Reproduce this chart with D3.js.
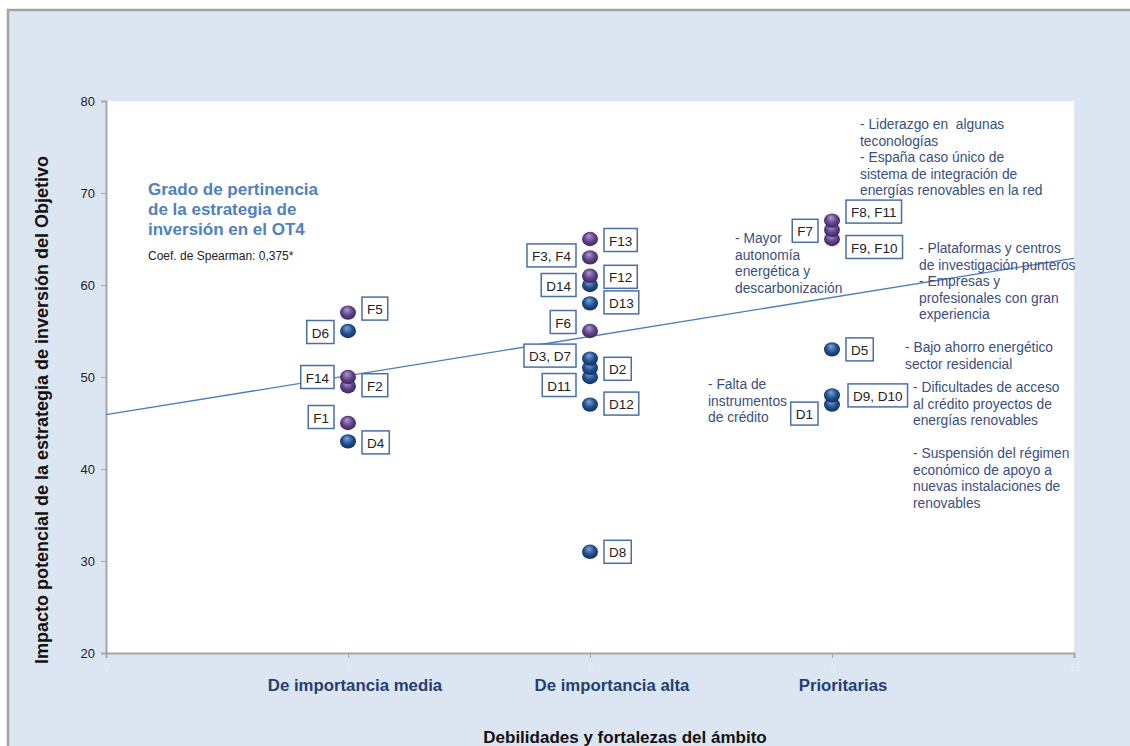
<!DOCTYPE html>
<html lang="es">
<head>
<meta charset="UTF-8">
<title>Grado de pertinencia OT4</title>
<script src="https://d3js.org/d3.v7.min.js"></script>
<style>
  body { margin: 0; background: #fff; }
  text { font-family: "Liberation Sans", Arial, sans-serif; white-space: pre; }
</style>
</head>
<body>
<script>
// ---- data ----
var categories = ["De importancia media", "De importancia alta", "Prioritarias"];
var categoryPos = [3, 6, 9];
var yTicks = [20, 30, 40, 50, 60, 70, 80];
var xTicks = [0, 3, 6, 9, 12];

// points, drawn bottom-up so the upper sphere sits on top
var pointLabels = ["D4", "F1", "F2", "F14", "D6", "F5",
                   "D8", "D12", "D11", "D2", "D3, D7", "F6", "D13", "D14", "F12", "F3, F4", "F13",
                   "D1", "D9, D10", "D5", "F9, F10", "F7", "F8, F11"];
var pointCat = [0, 0, 0, 0, 0, 0,
                1, 1, 1, 1, 1, 1, 1, 1, 1, 1, 1,
                2, 2, 2, 2, 2, 2];
var pointValues = [43, 45, 49, 50, 55, 57,
                   31, 47, 50, 51, 52, 55, 58, 60, 61, 63, 65,
                   47, 48, 53, 65, 66, 67];

// regression line (x, y)
var trendX = [0, 12];
var trendY = [45.9, 62.9];

var titleLines = ["Grado de pertinencia", "de la estrategia de", "inversión en el OT4"];
var coefText = "Coef. de Spearman: 0,375*";

var notes = [
  ["- Liderazgo en  algunas", "teconologías", "- España caso único de", "sistema de integración de", "energías renovables en la red"],
  ["- Mayor", "autonomía", "energética y", "descarbonización"],
  ["- Plataformas y centros", "de investigación punteros", "- Empresas y", "profesionales con gran", "experiencia"],
  ["- Bajo ahorro energético", "sector residencial"],
  ["- Dificultades de acceso", "al crédito proyectos de", "energías renovables"],
  ["- Suspensión del régimen", "económico de apoyo a", "nuevas instalaciones de", "renovables"],
  ["- Falta de", "instrumentos", "de crédito"]
];

// ---- layout ----
var W = 1130, H = 746;
var svg = d3.select("body").append("svg").attr("width", W).attr("height", H);

var x = d3.scaleLinear().domain([0, 12]).range([106, 1074]);
var y = d3.scaleLinear().domain([20, 80]).range([653, 101]);

// label side and vertical nudge (px)
var labelLayout = {
  "F5": ["r", -4], "D6": ["l", 1], "F14": ["l", 0], "F2": ["r", -1], "F1": ["l", -6], "D4": ["r", 1],
  "F13": ["r", 1], "F3, F4": ["l", -2], "F12": ["r", 1], "D14": ["l", 0], "D13": ["r", -1],
  "F6": ["l", -9], "D3, D7": ["l", -3], "D2": ["r", 1], "D11": ["l", 8], "D12": ["r", -1], "D8": ["r", 0],
  "F8, F11": ["r", -9], "F7": ["l", 1], "F9, F10": ["r", 8], "D5": ["r", 0], "D9, D10": ["r", 0], "D1": ["l", 9]
};
var notePos = [[860, 124], [735, 238], [919, 248], [905, 347], [913, 387], [913, 453], [708, 384]];

// frame
svg.append("rect").attr("x", 0).attr("y", 0).attr("width", W).attr("height", H).attr("fill", "#fff");
svg.append("rect").attr("x", 8).attr("y", 10).attr("width", W + 20).attr("height", H + 20)
  .attr("fill", "#dce6f2").attr("stroke", "#a3a3a3").attr("stroke-width", 2.5);

svg.append("rect").attr("x", x(0)).attr("y", y(80))
  .attr("width", x(12) - x(0)).attr("height", y(20) - y(80)).attr("fill", "#fff");

// gradients
var defs = svg.append("defs");
function sphere(id, c0, c1, c2) {
  var g = defs.append("radialGradient").attr("id", id)
    .attr("cx", "50%").attr("cy", "45%").attr("r", "60%").attr("fx", "42%").attr("fy", "28%");
  g.append("stop").attr("offset", "0%").attr("stop-color", c0);
  g.append("stop").attr("offset", "55%").attr("stop-color", c1);
  g.append("stop").attr("offset", "100%").attr("stop-color", c2);
}
sphere("gBlue", "#7ea6dd", "#23508f", "#0d2a55");
sphere("gPurple", "#b39ad0", "#5f4589", "#332250");

// axes
var yAxis = d3.axisLeft(y).tickValues(yTicks).tickSize(5).tickPadding(6);
var gy = svg.append("g").attr("transform", "translate(" + x(0) + ",0)").call(yAxis);
gy.select(".domain").attr("stroke", "#a6a6a6").attr("stroke-width", 2);
gy.selectAll(".tick line").attr("stroke", "#a6a6a6");
gy.selectAll(".tick text").attr("font-size", 13).attr("fill", "#222")
  .attr("font-family", "Liberation Sans, Arial, sans-serif");

var xAxis = d3.axisBottom(x).tickValues(xTicks).tickSize(5).tickPadding(6);
var gx = svg.append("g").attr("transform", "translate(0," + y(20) + ")").call(xAxis);
gx.select(".domain").attr("stroke", "#a6a6a6").attr("stroke-width", 2);
gx.selectAll(".tick line").attr("stroke", "#a6a6a6");
gx.selectAll(".tick text").attr("font-size", 10).attr("fill", "#e6edf6")
  .attr("font-family", "Liberation Sans, Arial, sans-serif");

// category labels
svg.selectAll(".cat").data(categories).enter().append("text")
  .attr("x", function (d, i) { return x(categoryPos[i]) + [7, 22, 11][i]; })
  .attr("y", 691).attr("text-anchor", "middle")
  .attr("font-size", 16.8).attr("font-weight", "bold").attr("fill", "#243f74")
  .text(function (d) { return d; });

// axis titles
svg.append("text").attr("x", 625).attr("y", 743).attr("text-anchor", "middle")
  .attr("font-size", 17).attr("font-weight", "bold").attr("fill", "#111")
  .text("Debilidades y fortalezas del ámbito");
svg.append("text").attr("transform", "translate(48,410) rotate(-90)").attr("text-anchor", "middle")
  .attr("font-size", 18).attr("font-weight", "bold").attr("fill", "#111")
  .text("Impacto potencial de la estrategia de inversión del Objetivo");

// trend line
var trend = trendX.map(function (d, i) { return [d, trendY[i]]; });
svg.append("path").datum(trend)
  .attr("d", d3.line().x(function (d) { return x(d[0]); }).y(function (d) { return y(d[1]); }))
  .attr("fill", "none").attr("stroke", "#4a7ebb").attr("stroke-width", 1.3);

// title block
svg.selectAll(".title").data(titleLines).enter().append("text")
  .attr("x", 148).attr("y", function (d, i) { return 195 + i * 20; })
  .attr("font-size", 17).attr("font-weight", "bold").attr("fill", "#4f81bd")
  .text(function (d) { return d; });
svg.append("text").attr("x", 148).attr("y", 260).attr("font-size", 12).attr("fill", "#222").text(coefText);

// points
var points = pointLabels.map(function (d, i) {
  return { label: d, x: categoryPos[pointCat[i]], v: pointValues[i] };
});

var pts = svg.append("g");
pts.selectAll("ellipse").data(points).enter().append("ellipse")
  .attr("cx", function (d) { return x(d.x); })
  .attr("cy", function (d) { return y(d.v); })
  .attr("rx", 8).attr("ry", 7.2)
  .attr("fill", function (d) { return d.label[0] === "F" ? "url(#gPurple)" : "url(#gBlue)"; });

// label boxes
var lab = svg.append("g").selectAll("g").data(points).enter().append("g");
lab.each(function (d) {
  var g = d3.select(this);
  var lay = labelLayout[d.label];
  var cy = y(d.v) + lay[1];
  var t = g.append("text").attr("font-family", "Lato, 'Open Sans', sans-serif")
    .attr("font-size", 13.5).attr("fill", "#222").attr("dominant-baseline", "central").text(d.label);
  var w = t.node().getComputedTextLength() + 10;
  var gap = d.label === "D9, D10" ? 16 : 14;
  var bx = lay[0] === "r" ? x(d.x) + gap : x(d.x) - gap - w;
  g.insert("rect", "text").attr("x", bx).attr("y", cy - 11.5).attr("width", w).attr("height", 23)
    .attr("fill", "#fff").attr("stroke", "#4a6fa5").attr("stroke-width", 1.5);
  t.attr("x", bx + w / 2).attr("y", cy + 1).attr("text-anchor", "middle");
});

// annotation notes
notes.forEach(function (lines, k) {
  svg.append("g").selectAll("text").data(lines).enter().append("text")
    .attr("x", notePos[k][0])
    .attr("y", function (d, i) { return notePos[k][1] + 5 + i * 16.5; })
    .attr("font-size", 13.8).attr("fill", "#3a4f7e")
    .text(function (d) { return d; });
});
</script>
</body>
</html>
